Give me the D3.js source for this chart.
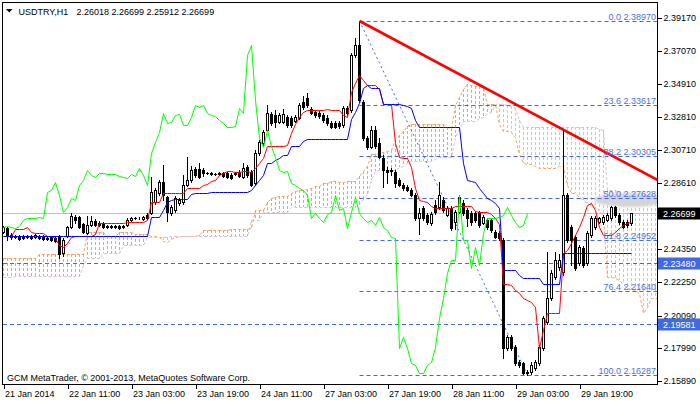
<!DOCTYPE html>
<html><head><meta charset="utf-8">
<script src="https://cdn.jsdelivr.net/npm/d3@7"></script>
<style>
html,body{margin:0;padding:0;background:#fff;}
svg{display:block;}
text{font-family:"Liberation Sans",Arial,sans-serif;font-size:9px;}
</style></head><body>
<svg id="c" width="700" height="402"></svg>
<script>
// ---------- DATA ----------
const symbolTitle = "USDTRY,H1";
const lastQuote = "2.26018 2.26699 2.25912 2.26699";
const copyright = "GCM MetaTrader, \u00a9 2001-2013, MetaQuotes Software Corp.";
// hourly bars [open, high, low, close]
const ohlc = [
[2.2545,2.2583,2.2539,2.2577],[2.2570,2.2577,2.2494,2.2519],[2.2526,2.2539,2.2500,2.2513],[2.2519,2.2526,2.2506,2.2513],[2.2519,2.2526,2.2494,2.2500],
[2.2513,2.2526,2.2500,2.2506],[2.2519,2.2526,2.2506,2.2513],[2.2519,2.2526,2.2500,2.2506],[2.2513,2.2532,2.2506,2.2526],[2.2519,2.2526,2.2500,2.2506],
[2.2519,2.2526,2.2494,2.2500],[2.2506,2.2519,2.2494,2.2500],[2.2513,2.2519,2.2487,2.2494],[2.2506,2.2519,2.2481,2.2487],[2.2513,2.2526,2.2378,2.2404],
[2.2410,2.2506,2.2391,2.2494],[2.2519,2.2583,2.2513,2.2577],[2.2577,2.2667,2.2570,2.2647],[2.2641,2.2654,2.2603,2.2622],[2.2641,2.2647,2.2570,2.2577],
[2.2596,2.2603,2.2539,2.2545],[2.2539,2.2647,2.2532,2.2590],[2.2590,2.2647,2.2583,2.2615],[2.2615,2.2628,2.2583,2.2590],[2.2603,2.2615,2.2583,2.2590],
[2.2603,2.2609,2.2570,2.2577],[2.2583,2.2590,2.2570,2.2577],[2.2577,2.2590,2.2570,2.2583],[2.2583,2.2590,2.2570,2.2577],[2.2583,2.2590,2.2564,2.2570],
[2.2577,2.2590,2.2570,2.2583],[2.2590,2.2635,2.2583,2.2622],[2.2622,2.2641,2.2615,2.2635],[2.2635,2.2641,2.2628,2.2635],[2.2635,2.2641,2.2628,2.2637],
[2.2628,2.2647,2.2622,2.2641],[2.2654,2.2667,2.2628,2.2635],[2.2667,2.2897,2.2660,2.2801],[2.2737,2.2827,2.2724,2.2814],[2.2795,2.2878,2.2782,2.2865],
[2.2865,2.2974,2.2750,2.2782],[2.2769,2.2776,2.2615,2.2673],[2.2667,2.2718,2.2654,2.2705],[2.2686,2.2776,2.2673,2.2763],[2.2731,2.2763,2.2718,2.2750],
[2.2737,2.2910,2.2724,2.2846],[2.2846,2.3026,2.2840,2.2878],[2.2878,2.2968,2.2865,2.2942],[2.2949,2.2962,2.2897,2.2910],[2.2949,2.2987,2.2891,2.2897],
[2.2942,2.2955,2.2904,2.2923],[2.2923,2.2929,2.2917,2.2923],[2.2923,2.2929,2.2910,2.2917],[2.2917,2.2923,2.2910,2.2917],[2.2923,2.2929,2.2910,2.2917],
[2.2923,2.2929,2.2897,2.2904],[2.2923,2.2929,2.2891,2.2897],[2.2910,2.2923,2.2885,2.2891],[2.2923,2.2929,2.2910,2.2917],[2.2929,2.2942,2.2897,2.2904],
[2.2897,2.2987,2.2891,2.2955],[2.2962,2.2974,2.2897,2.2910],[2.2929,2.2942,2.2840,2.2846],[2.2859,2.3071,2.2846,2.3051],[2.3051,2.3135,2.3038,2.3122],
[2.3115,2.3199,2.3103,2.3186],[2.3199,2.3359,2.3192,2.3308],[2.3301,2.3314,2.3231,2.3244],[2.3295,2.3327,2.3218,2.3250],[2.3250,2.3308,2.3244,2.3295],
[2.3250,2.3333,2.3244,2.3301],[2.3282,2.3295,2.3218,2.3231],[2.3276,2.3288,2.3218,2.3231],[2.3256,2.3295,2.3250,2.3282],[2.3276,2.3372,2.3269,2.3359],
[2.3378,2.3417,2.3333,2.3346],[2.3404,2.3436,2.3346,2.3359],[2.3333,2.3346,2.3301,2.3308],[2.3314,2.3327,2.3282,2.3295],[2.3308,2.3321,2.3276,2.3288],
[2.3295,2.3308,2.3250,2.3263],[2.3276,2.3295,2.3231,2.3244],[2.3244,2.3256,2.3212,2.3218],[2.3244,2.3256,2.3212,2.3218],[2.3244,2.3256,2.3212,2.3224],
[2.3231,2.3353,2.3218,2.3340],[2.3340,2.3353,2.3295,2.3308],[2.3327,2.3692,2.3314,2.3679],[2.3679,2.3788,2.3667,2.3744],[2.3744,2.3897,2.3378,2.3391],
[2.3378,2.3391,2.3135,2.3147],[2.3147,2.3160,2.3077,2.3090],[2.3090,2.3224,2.3083,2.3199],[2.3199,2.3224,2.3083,2.3096],[2.3115,2.3147,2.3019,2.3026],
[2.3019,2.3038,2.2833,2.2942],[2.2942,2.2962,2.2859,2.2929],[2.2942,2.2955,2.2910,2.2936],[2.2929,2.2942,2.2833,2.2859],[2.2878,2.2891,2.2840,2.2846],
[2.2846,2.2859,2.2814,2.2827],[2.2833,2.2846,2.2808,2.2814],[2.2814,2.2827,2.2776,2.2782],[2.2782,2.2795,2.2622,2.2635],[2.2635,2.2699,2.2532,2.2667],
[2.2699,2.2711,2.2622,2.2635],[2.2654,2.2667,2.2596,2.2609],[2.2603,2.2673,2.2590,2.2660],[2.2718,2.2750,2.2660,2.2673],[2.2705,2.2865,2.2692,2.2782],
[2.2750,2.2769,2.2673,2.2686],[2.2654,2.2711,2.2647,2.2699],[2.2699,2.2711,2.2558,2.2570],[2.2609,2.2686,2.2564,2.2673],[2.2673,2.2782,2.2667,2.2769],
[2.2731,2.2750,2.2654,2.2667],[2.2686,2.2699,2.2583,2.2635],[2.2667,2.2680,2.2590,2.2609],[2.2667,2.2680,2.2609,2.2622],[2.2673,2.2680,2.2577,2.2590],
[2.2603,2.2654,2.2596,2.2641],[2.2622,2.2635,2.2564,2.2577],[2.2622,2.2635,2.2545,2.2558],[2.2545,2.2558,2.2506,2.2513],[2.2539,2.2551,2.2494,2.2506],
[2.2494,2.2506,2.1737,2.1801],[2.1801,2.1885,2.1789,2.1872],[2.1872,2.1885,2.1789,2.1801],[2.1808,2.1821,2.1692,2.1705],[2.1712,2.1724,2.1679,2.1692],
[2.1705,2.1712,2.1635,2.1641],[2.1647,2.1660,2.16287,2.1641],[2.1647,2.1712,2.1635,2.1692],[2.1673,2.1724,2.1660,2.1712],[2.1705,2.1821,2.1692,2.1808],
[2.1801,2.2006,2.1789,2.1994],[2.1968,2.2417,2.1955,2.2122],[2.2122,2.2301,2.2109,2.2282],[2.2256,2.2417,2.2244,2.2366],[2.2321,2.2404,2.2301,2.2366],
[2.2289,2.3200,2.2269,2.2782],[2.2782,2.2795,2.2481,2.2494],[2.2577,2.2590,2.2333,2.2494],[2.2513,2.2526,2.2301,2.2314],[2.2346,2.2462,2.2333,2.2449],
[2.2442,2.2455,2.2321,2.2333],[2.2346,2.2551,2.2333,2.2539],[2.2526,2.2647,2.2513,2.2635],[2.2577,2.2647,2.2564,2.2635],[2.2609,2.2641,2.2603,2.2635],
[2.2609,2.2654,2.2596,2.2641],[2.2622,2.2667,2.2615,2.2654],[2.2635,2.2711,2.2622,2.2705],[2.2705,2.2711,2.2641,2.2654],[2.2654,2.2667,2.2596,2.2609],
[2.2609,2.2622,2.2570,2.2577],[2.2609,2.2622,2.2577,2.2590],[2.26018,2.26699,2.25912,2.26699]
];
// Ichimoku Tenkan-sen (red)
const tenkan = [
2.2519,2.2519,2.2519,2.2564,2.2564,2.2564,2.2577,2.2545,2.2539,2.2539,
2.2539,2.2519,2.2519,2.2506,2.2462,2.2449,2.2474,2.2513,2.2519,2.2519,
2.2519,2.2519,2.2519,2.2532,2.2603,2.2603,2.2603,2.2603,2.2603,2.2603,
2.2603,2.2609,2.2609,2.2609,2.2609,2.2609,2.2622,2.2737,2.2737,2.2737,
2.2795,2.2795,2.2795,2.2795,2.2795,2.2795,2.2827,2.2827,2.2827,2.2827,
2.2846,2.2853,2.2872,2.2878,2.2910,2.2923,2.2936,2.2936,2.2929,2.2929,
2.2936,2.2936,2.2929,2.2955,2.2987,2.3019,2.3096,2.3096,2.3096,2.3096,
2.3096,2.3103,2.3179,2.3237,2.3282,2.3314,2.3327,2.3327,2.3327,2.3327,
2.3327,2.3333,2.3327,2.3327,2.3327,2.3295,2.3282,2.3442,2.3500,2.3551,
2.3519,2.3487,2.3487,2.3487,2.3462,2.3365,2.3365,2.3365,2.3115,2.3026,
2.3019,2.3019,2.2962,2.2827,2.2750,2.2744,2.2737,2.2711,2.2699,2.2699,
2.2699,2.2699,2.2699,2.2711,2.2711,2.2711,2.2711,2.2711,2.2680,2.2673,
2.2673,2.2673,2.2660,2.2635,2.2596,2.2212,2.2212,2.2205,2.2173,2.2154,
2.2122,2.2109,2.2096,2.2064,2.1801,2.1917,2.2026,2.2026,2.2026,2.2026,
2.2410,2.2430,2.2474,2.2526,2.2577,2.2641,2.2718,2.2731,2.2686,2.2577,
2.2526,2.2526,2.2526,2.2545,2.2570,2.2590,2.2603,2.2609
];
// Ichimoku Kijun-sen (blue)
const kijun = [
2.2519,2.2519,2.2519,2.2519,2.2519,2.2519,2.2519,2.2519,2.2519,2.2519,
2.2519,2.2519,2.2519,2.2519,2.2519,2.2519,2.2519,2.2519,2.2519,2.2519,
2.2519,2.2519,2.2519,2.2519,2.2519,2.2519,2.2519,2.2519,2.2519,2.2519,
2.2519,2.2519,2.2519,2.2519,2.2519,2.2519,2.2519,2.2641,2.2641,2.2641,
2.2686,2.2737,2.2750,2.2756,2.2756,2.2756,2.2756,2.2788,2.2795,2.2795,
2.2795,2.2795,2.2801,2.2801,2.2801,2.2801,2.2801,2.2801,2.2801,2.2801,
2.2801,2.2801,2.2814,2.2846,2.2878,2.2910,2.2987,2.2987,2.3006,2.3019,
2.3038,2.3038,2.3096,2.3096,2.3096,2.3128,2.3141,2.3141,2.3141,2.3141,
2.3141,2.3141,2.3141,2.3141,2.3141,2.3141,2.3141,2.3269,2.3314,2.3372,
2.3468,2.3487,2.3468,2.3468,2.3468,2.3365,2.3365,2.3365,2.3365,2.3365,
2.3359,2.3353,2.3340,2.3263,2.3218,2.3218,2.3218,2.3218,2.3218,2.3218,
2.3218,2.3218,2.3218,2.3218,2.3218,2.2987,2.2878,2.2872,2.2865,2.2827,
2.2795,2.2763,2.2750,2.2731,2.2699,2.2301,2.2301,2.2301,2.2301,2.2269,
2.2250,2.2250,2.2250,2.2250,2.2250,2.2212,2.2212,2.2212,2.2212,2.2212,
2.2410,2.2410,2.2410,2.2410,2.2410,2.2410,2.2410,2.2410,2.2410,2.2410,
2.2410,2.2410,2.2410,2.2410,2.2410,2.2410,2.2410,2.2410
];
// Senkou Span A (sandy brown) and Span B (thistle), as plotted (26 bars ahead)
const spanA = [
2.2378,2.2378,2.2378,2.2378,2.2378,2.2378,2.2378,2.2378,2.2378,2.2404,
2.2404,2.2404,2.2404,2.2404,2.2404,2.2404,2.2404,2.2404,2.2404,2.2404,
2.2404,2.2545,2.2545,2.2545,2.2545,2.2545,2.2519,2.2519,2.2519,2.2542,
2.2542,2.2542,2.2548,2.2532,2.2529,2.2529,2.2529,2.2519,2.2519,2.2513,
2.2490,2.2484,2.2497,2.2516,2.2519,2.2519,2.2519,2.2519,2.2519,2.2526,
2.2561,2.2561,2.2561,2.2561,2.2561,2.2561,2.2561,2.2564,2.2564,2.2564,
2.2564,2.2564,2.2570,2.2689,2.2689,2.2689,2.2740,2.2766,2.2772,2.2776,
2.2776,2.2776,2.2792,2.2808,2.2811,2.2811,2.2821,2.2824,2.2837,2.2840,
2.2856,2.2862,2.2869,2.2869,2.2865,2.2865,2.2869,2.2869,2.2872,2.2901,
2.2933,2.2965,2.3042,2.3042,2.3051,2.3058,2.3067,2.3071,2.3138,2.3167,
2.3189,2.3221,2.3234,2.3234,2.3234,2.3234,2.3234,2.3237,2.3234,2.3234,
2.3234,2.3218,2.3212,2.3356,2.3407,2.3462,2.3494,2.3487,2.3478,2.3478,
2.3465,2.3365,2.3365,2.3365,2.3240,2.3195,2.3189,2.3186,2.3151,2.3045,
2.2984,2.2981,2.2978,2.2965,2.2958,2.2958,2.2958,2.2958,2.2958,2.2965,
2.2965,2.2849,2.2795,2.2792,2.2772,2.2750,2.2734,2.2718,2.2705,2.2683,
2.2647,2.2256,2.2256,2.2253,2.2237,2.2212,2.2186,2.2180,2.2173,2.2157,
2.2026,2.2064,2.2119,2.2119,2.2119
];
const spanB = [
2.2256,2.2256,2.2256,2.2263,2.2263,2.2263,2.2263,2.2263,2.2263,2.2263,
2.2263,2.2263,2.2263,2.2263,2.2263,2.2263,2.2263,2.2263,2.2263,2.2263,
2.2333,2.2378,2.2378,2.2378,2.2378,2.2410,2.2410,2.2410,2.2410,2.2410,
2.2462,2.2462,2.2462,2.2462,2.2462,2.2462,2.2513,2.2513,2.2513,2.2513,
2.2513,2.2513,2.2519,2.2519,2.2519,2.2519,2.2519,2.2519,2.2519,2.2519,
2.2519,2.2519,2.2519,2.2519,2.2519,2.2519,2.2519,2.2519,2.2519,2.2519,
2.2519,2.2519,2.2622,2.2622,2.2622,2.2673,2.2673,2.2673,2.2673,2.2673,
2.2673,2.2673,2.2705,2.2705,2.2705,2.2705,2.2705,2.2702,2.2702,2.2702,
2.2702,2.2702,2.2702,2.2702,2.2702,2.2702,2.2702,2.2702,2.2702,2.2724,
2.2756,2.2788,2.2875,2.2936,2.2945,2.2945,2.2945,2.2945,2.2945,2.2962,
2.2968,2.2990,2.3000,2.3000,2.3000,2.3000,2.3000,2.3003,2.3010,2.3026,
2.3026,2.3026,2.3026,2.3154,2.3202,2.3256,2.3256,2.3256,2.3256,2.3276,
2.3285,2.3308,2.3311,2.3365,2.3365,2.3365,2.3356,2.3353,2.3337,2.3260,
2.3215,2.3215,2.3215,2.3215,2.3215,2.3215,2.3215,2.3215,2.3215,2.3215,
2.3215,2.3215,2.3215,2.3215,2.3215,2.3215,2.3215,2.3215,2.3215,2.3202,
2.3196,2.2817,2.2817,2.2817,2.2795,2.2788,2.2763,2.2763,2.2763,2.2763,
2.2763,2.2763,2.2763,2.2763,2.2763
];
const chikouShift = 26;
const priceTicks = [2.39170,2.37070,2.34910,2.32810,2.30710,2.28610,2.26450,2.24350,2.22250,2.20090,2.17990,2.15890];
const timeTickBars = [0,16,32,48,64,80,96,112,128,144];
const timeLabels = ["21 Jan 2014","22 Jan 11:00","23 Jan 03:00","23 Jan 19:00","24 Jan 11:00","27 Jan 03:00","27 Jan 19:00","28 Jan 11:00","29 Jan 03:00","29 Jan 19:00"];
const fibNames = ["0.0","23.6","38.2","50.0","61.8","76.4","100.0"];
const fibPrices = [2.38970,2.33617,2.30305,2.27628,2.24952,2.21640,2.16287];
const fibFrom = [89, 2.38970], fibTo = [131, 2.16287];
const hLines = [2.23480, 2.19581];
const bidPrice = 2.26699;
const trendPts = [[89, 2.38970],[140, 2.3200]];

// ---------- DRAW ----------
const svg = d3.select("#c");
const L=3, R=658, T=3, B=384;
const x = d3.scaleLinear().domain([0,157]).range([3.5,631.5]);
const y = d3.scaleLinear().domain([2.38970,2.16287]).range([21,375]);
const ry = v => Math.round(y(v));
const defs = svg.append("defs");
defs.append("clipPath").attr("id","clip").append("rect").attr("x",L).attr("y",T).attr("width",R-L).attr("height",B-T);
defs.append("filter").attr("id","blur").append("feGaussianBlur").attr("stdDeviation",1.6);
const g = svg.append("g").attr("clip-path","url(#clip)");
const BLUE = "#4169e1", SAND="#f4a460", THIS="#d8bfd8";

// Kumo histogram: dotted vertical strokes at every bar
const hatch = g.append("g").attr("shape-rendering","crispEdges");
d3.range(spanA.length).forEach(i=>{
  const a = ry(spanA[i]), b = ry(spanB[i]);
  const top = Math.min(a,b), bot = Math.max(a,b);
  const col = spanA[i]>=spanB[i] ? SAND : THIS;
  const segs = d3.range(top, bot, 5).map(s=>[s, Math.min(3, bot-s)]);
  hatch.selectAll(null).data(segs).join("rect")
    .attr("x", Math.floor(x(i))).attr("y", s=>s[0]).attr("width",1).attr("height", s=>s[1])
    .attr("fill", col);
});
const idxLine = d3.line().x((d,i)=>x(i)).y(d=>ry(d)+0.5);
g.append("path").attr("d",idxLine(spanA)).attr("fill","none").attr("stroke",SAND).attr("stroke-dasharray","3,2");
g.append("path").attr("d",idxLine(spanB)).attr("fill","none").attr("stroke",THIS).attr("stroke-dasharray","3,2");

// grey ellipse behind 50.0 label
g.append("ellipse").attr("cx",630).attr("cy",y(fibPrices[3])+2).attr("rx",36).attr("ry",7)
  .attr("fill","#d4d4d4").attr("filter","url(#blur)");

// Fibonacci levels
const fx0 = x(fibFrom[0]);
g.append("g").selectAll("line").data(fibPrices).join("line")
  .attr("x1",fx0).attr("x2",R).attr("y1",d=>ry(d)+0.5).attr("y2",d=>ry(d)+0.5)
  .attr("stroke",BLUE).attr("stroke-dasharray","4,3");
// horizontal lines
g.append("g").selectAll("line").data(hLines).join("line")
  .attr("x1",L).attr("x2",R).attr("y1",d=>ry(d)+0.5).attr("y2",d=>ry(d)+0.5)
  .attr("stroke",BLUE).attr("stroke-dasharray","4,3");
// bid line
g.append("line").attr("x1",L).attr("x2",R).attr("y1",ry(bidPrice)+0.5).attr("y2",ry(bidPrice)+0.5)
  .attr("stroke","#c0c0c0");
// fib trend (dotted diagonal)
g.append("line").attr("x1",x(fibFrom[0])).attr("y1",y(fibFrom[1])).attr("x2",x(fibTo[0])).attr("y2",y(fibTo[1]))
  .attr("stroke",BLUE).attr("stroke-dasharray","2,3");

// candles
const cg = g.append("g").attr("shape-rendering","crispEdges");
ohlc.forEach((d,i)=>{
  const [o,h,l,c] = d;
  const cx = x(i);
  cg.append("line").attr("x1",cx).attr("x2",cx).attr("y1",ry(h)).attr("y2",ry(l)+1).attr("stroke","#000");
  if (c>o) {
    const top=ry(c)+0.5, bot=ry(o)+0.5;
    cg.append("rect").attr("x",cx-1).attr("y",top).attr("width",2).attr("height",Math.max(0,bot-top))
      .attr("fill","#fff").attr("stroke","#000");
  } else if (c<o) {
    const top=ry(o), bot=ry(c)+1;
    cg.append("rect").attr("x",cx-1.5).attr("y",top).attr("width",3).attr("height",bot-top).attr("fill","#000");
  } else {
    cg.append("line").attr("x1",cx-1.5).attr("x2",cx+1.5).attr("y1",ry(c)+0.5).attr("y2",ry(c)+0.5).attr("stroke","#000");
  }
});

// Ichimoku lines
g.append("path").attr("d",idxLine(tenkan)).attr("fill","none").attr("stroke","#ff0000");
g.append("path").attr("d",idxLine(kijun)).attr("fill","none").attr("stroke","#0000ff");
const chikou = ohlc.slice(chikouShift).map(d=>d[3]);
g.append("path").attr("d",idxLine(chikou)).attr("fill","none").attr("stroke","#00ff00");

// red trendline (ray)
const slope = (trendPts[1][1]-trendPts[0][1])/(trendPts[1][0]-trendPts[0][0]);
const iEnd = x.invert(R+2);
g.append("line").attr("x1",x(trendPts[0][0])).attr("y1",y(trendPts[0][1]))
  .attr("x2",x(iEnd)).attr("y2",y(trendPts[0][1]+slope*(iEnd-trendPts[0][0])))
  .attr("stroke","#ff0000").attr("stroke-width",2.6);

// fib labels
g.append("g").selectAll("text").data(fibPrices).join("text")
  .attr("x",656).attr("y",d=>ry(d)-1.5).attr("text-anchor","end").attr("fill","#4a6fe6")
  .text((d,i)=>fibNames[i]+" "+d.toFixed(5));

// frame
svg.append("rect").attr("x",2.5).attr("y",2.5).attr("width",655).attr("height",382)
  .attr("fill","none").attr("stroke","#000").attr("shape-rendering","crispEdges");

// right price axis
const ay = svg.append("g").attr("transform","translate(657.5,0)")
  .call(d3.axisRight(y).tickValues(priceTicks).tickSize(4).tickPadding(2).tickFormat(d3.format(".5f")));
ay.select(".domain").remove();
ay.attr("font-family",null).attr("font-size",null);
ay.selectAll("text").attr("fill","#000");
ay.selectAll(".tick line").attr("stroke","#000").attr("shape-rendering","crispEdges");
ay.selectAll(".tick").attr("transform",d=>"translate(0,"+(ry(d)+0.5)+")");

// price boxes
const boxes = [{v:bidPrice,bg:"#000"}].concat(hLines.map(v=>({v:v,bg:BLUE})));
const bx = svg.append("g");
boxes.forEach(b=>{
  const cy = ry(b.v)+0.5;
  bx.append("rect").attr("x",658).attr("y",cy-6).attr("width",42).attr("height",12).attr("fill",b.bg);
  bx.append("text").attr("x",663).attr("y",cy+3.5).attr("fill","#fff").text(b.v.toFixed(5));
});

// bottom time axis
const ax = svg.append("g").attr("transform","translate(0,384.5)")
  .call(d3.axisBottom(x).tickValues(timeTickBars).tickSize(4).tickFormat((d,i)=>timeLabels[i]));
ax.select(".domain").remove();
ax.attr("font-family",null).attr("font-size",null);
ax.selectAll(".tick line").attr("stroke","#000").attr("shape-rendering","crispEdges");
ax.selectAll("text").attr("fill","#000").attr("text-anchor","start").attr("x",1).attr("dy",null).attr("y",12.5);

// title
svg.append("path").attr("d","M6,9 L12.5,9 L9.25,12.5 Z").attr("fill","#000");
const tt = svg.append("text").attr("y",15).attr("fill","#000");
tt.append("tspan").attr("x",18.5).text(symbolTitle);
tt.append("tspan").attr("x",76.5).text(lastQuote);
// copyright
svg.append("text").attr("x",7).attr("y",380.5).attr("fill","#000").text(copyright);
</script>
</body></html>
